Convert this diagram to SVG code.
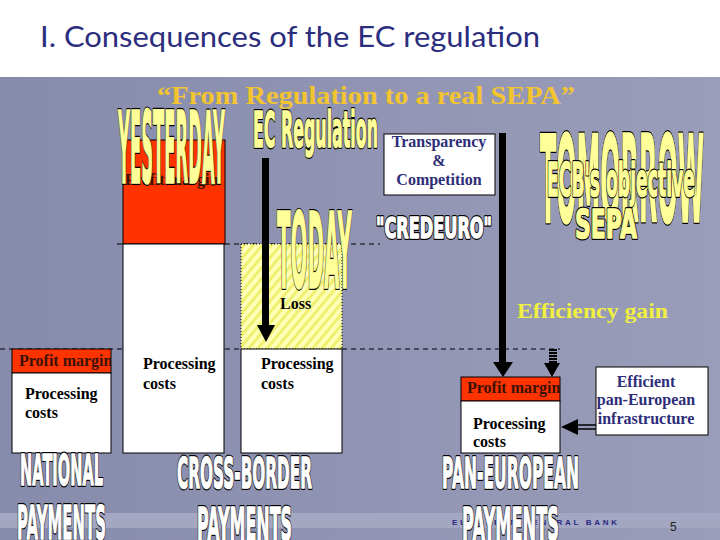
<svg xmlns="http://www.w3.org/2000/svg" xmlns:xlink="http://www.w3.org/1999/xlink" width="720" height="540" viewBox="0 0 720 540">
<defs>
<linearGradient id="bg" x1="0" y1="0" x2="1" y2="0">
<stop offset="0" stop-color="#878BAC"/>
<stop offset="1" stop-color="#9A9DB9"/>
</linearGradient>
<pattern id="hatch" width="7" height="7" patternUnits="userSpaceOnUse" patternTransform="rotate(40)">
<rect width="7" height="7" fill="#FFFFB8"/>
<rect width="3" height="7" fill="#F0F070"/>
</pattern>
<pattern id="hatch2" width="3" height="3" patternUnits="userSpaceOnUse">
<rect width="3" height="3" fill="#000"/>
<rect width="3" height="1" fill="#8C90B0"/>
</pattern>
<clipPath id="cNat"><rect x="12" y="349" width="99" height="24"/></clipPath>
<clipPath id="cPan"><rect x="461" y="377" width="99" height="24"/></clipPath>
<text id="tYes" class="wa" x="118" y="183" font-size="99" textLength="107" lengthAdjust="spacingAndGlyphs">YESTERDAY</text>
<text id="tEC" class="wa" x="253" y="147" font-size="49" textLength="125" lengthAdjust="spacingAndGlyphs">EC Regulation</text>
<text id="tToday" class="wa" x="277" y="288" font-size="105" textLength="75" lengthAdjust="spacingAndGlyphs">TODAY</text>
<text id="tCred" class="wa" x="376" y="238" font-size="28" textLength="116" lengthAdjust="spacingAndGlyphs">"CREDEURO"</text>
<text id="tTom" class="wa" x="540" y="222" font-size="121" textLength="164" lengthAdjust="spacingAndGlyphs">TOMORROW</text>
<text id="tECB" class="wa" x="547" y="196" font-size="46" textLength="148" lengthAdjust="spacingAndGlyphs">ECB's objective</text>
<text id="tSepa" class="wa" x="575" y="238" font-size="39" textLength="62" lengthAdjust="spacingAndGlyphs">SEPA</text>
<text id="tNat" class="wa" x="20" y="485" font-size="42" textLength="83" lengthAdjust="spacingAndGlyphs">NATIONAL</text>
<text id="tPay1" class="wa" x="17" y="539" font-size="47" textLength="89" lengthAdjust="spacingAndGlyphs">PAYMENTS</text>
<text id="tCross" class="wa" x="177" y="488" font-size="42" textLength="135" lengthAdjust="spacingAndGlyphs">CROSS-BORDER</text>
<text id="tPay2" class="wa" x="197" y="540" font-size="45" textLength="95" lengthAdjust="spacingAndGlyphs">PAYMENTS</text>
<text id="tPan" class="wa" x="442" y="488" font-size="43" textLength="137" lengthAdjust="spacingAndGlyphs">PAN-EUROPEAN</text>
<text id="tPay3" class="wa" x="462" y="540" font-size="45" textLength="97" lengthAdjust="spacingAndGlyphs">PAYMENTS</text>
</defs>
<style>
.wa{font-family:"DejaVu Sans","Liberation Sans",Arial,sans-serif;font-weight:bold;vector-effect:non-scaling-stroke;stroke-linejoin:round}
.o{fill:#000;stroke:#000;stroke-width:4}
.fy{fill:#FFFF99;stroke:#FFFF99;stroke-width:1.6}
.fw{fill:#FFFFFF;stroke:#FFFFFF;stroke-width:1.6}
.box{fill:#FFFFFF;stroke:#000;stroke-width:1}
.red{fill:#FF3300;stroke:#000;stroke-width:1}
.pc{font-family:"Liberation Serif","Times New Roman",serif;font-size:16px;font-weight:bold;fill:#000}
.pm{font-family:"Liberation Serif","Times New Roman",serif;font-size:16px;font-weight:bold;fill:#3A1208}
.blue{font-family:"Liberation Serif","Times New Roman",serif;font-size:16px;font-weight:bold;fill:#2D2D78;text-anchor:middle}
.dash{stroke:#000;stroke-width:1;stroke-dasharray:5,4;fill:none}
</style>
<rect width="720" height="540" fill="url(#bg)"/>
<rect width="720" height="77" fill="#FFFFFF"/>
<rect x="0" y="513" width="720" height="15" fill="#A4A7C2"/>
<text x="40" y="47" font-family="Lato,'Open Sans',sans-serif" font-size="29" fill="#2B2D7E" textLength="500" lengthAdjust="spacingAndGlyphs">I. Consequences of the EC regulation</text>
<text x="157" y="104" font-family="'Liberation Serif','Times New Roman',serif" font-size="26" font-weight="bold" fill="#F2C530" textLength="418" lengthAdjust="spacingAndGlyphs">“From Regulation to a real SEPA”</text>
<text x="452" y="525" font-family="'Liberation Sans',Arial,sans-serif" font-size="8" font-weight="bold" fill="#2A2A80" textLength="165" lengthAdjust="spacing">EUROPEAN CENTRAL BANK</text>
<text x="670" y="531" font-family="'Liberation Sans',Arial,sans-serif" font-size="12" fill="#222">5</text>

<g id="guides">
<line class="dash" x1="117" y1="244" x2="380" y2="244"/>
<line class="dash" x1="0" y1="349" x2="560" y2="349"/>
</g>

<g id="national">
<rect class="red" x="12" y="349" width="99" height="24"/>
<text class="pm" x="19" y="366" clip-path="url(#cNat)">Profit margin</text>
<rect class="box" x="12" y="373" width="99" height="80"/>
<text class="pc" x="25" y="399">Processing</text>
<text class="pc" x="25" y="418">costs</text>
</g>

<g id="yesterday">
<rect class="red" x="123" y="140" width="102" height="104"/>
<text class="pm" x="125" y="185">Profit margin</text>
<rect class="box" x="123" y="244" width="101" height="209"/>
<text class="pc" x="143" y="369">Processing</text>
<text class="pc" x="143" y="389">costs</text>
</g>

<g id="today">
<rect x="241" y="244" width="101" height="105" fill="url(#hatch)" stroke="#000" stroke-width="1" stroke-dasharray="1,2"/>
<text x="280" y="309" font-family="'Liberation Serif','Times New Roman',serif" font-size="16" font-weight="bold" fill="#000">Loss</text>
<rect class="box" x="241" y="349" width="101" height="104"/>
<text class="pc" x="261" y="369">Processing</text>
<text class="pc" x="261" y="389">costs</text>
</g>

<g id="transparency">
<rect class="box" x="384" y="134" width="111" height="61"/>
<text class="blue" x="439" y="147">Transparency</text>
<text class="blue" x="439" y="166">&amp;</text>
<text class="blue" x="439" y="185">Competition</text>
</g>

<g id="paneuropean">
<rect class="red" x="461" y="377" width="99" height="24"/>
<text class="pm" x="467" y="393" clip-path="url(#cPan)">Profit margin</text>
<rect class="box" x="461" y="401" width="99" height="52"/>
<text class="pc" x="473" y="429">Processing</text>
<text class="pc" x="473" y="447">costs</text>
</g>

<g id="infrastructure">
<rect class="box" x="596" y="367" width="112" height="68"/>
<text class="blue" x="646" y="387">Efficient</text>
<text class="blue" x="646" y="405">pan-European</text>
<text class="blue" x="646" y="424">infrastructure</text>
</g>

<text x="517" y="318" font-family="'Liberation Serif','Times New Roman',serif" font-size="21" font-weight="bold" fill="#F0F040" textLength="151" lengthAdjust="spacingAndGlyphs">Efficiency gain</text>

<g id="connectors">
<rect x="262" y="158" width="7" height="168" fill="#000"/>
<polygon points="257,325 275,325 266,342" fill="#000"/>
<rect x="499" y="133" width="7" height="230" fill="#000"/>
<polygon points="493,362 513,362 503,377" fill="#000"/>
<rect x="549" y="349" width="8" height="15" fill="url(#hatch2)"/>
<polygon points="544,363 560,363 552,377" fill="#000"/>
<line x1="578" y1="425" x2="596" y2="425" stroke="#000" stroke-width="1.5"/>
<line x1="578" y1="429" x2="596" y2="429" stroke="#000" stroke-width="1.5"/>
<polygon points="561,427 578,419 578,435" fill="#000"/>
</g>

<g id="wordart">
<use xlink:href="#tYes" class="o"/><use xlink:href="#tYes" class="fy"/>
<use xlink:href="#tEC" class="o"/><use xlink:href="#tEC" class="fy"/>
<use xlink:href="#tToday" class="o"/><use xlink:href="#tToday" class="fy"/>
<use xlink:href="#tCred" class="o"/><use xlink:href="#tCred" class="fw"/>
<use xlink:href="#tTom" class="o"/><use xlink:href="#tTom" class="fy"/>
<use xlink:href="#tECB" class="o"/><use xlink:href="#tECB" class="fy"/>
<use xlink:href="#tSepa" class="o"/><use xlink:href="#tSepa" class="fy"/>
<use xlink:href="#tNat" class="o"/><use xlink:href="#tNat" class="fw"/>
<use xlink:href="#tPay1" class="o"/><use xlink:href="#tPay1" class="fw"/>
<use xlink:href="#tCross" class="o"/><use xlink:href="#tCross" class="fw"/>
<use xlink:href="#tPay2" class="o"/><use xlink:href="#tPay2" class="fw"/>
<use xlink:href="#tPan" class="o"/><use xlink:href="#tPan" class="fw"/>
<use xlink:href="#tPay3" class="o"/><use xlink:href="#tPay3" class="fw"/>
</g>
</svg>
